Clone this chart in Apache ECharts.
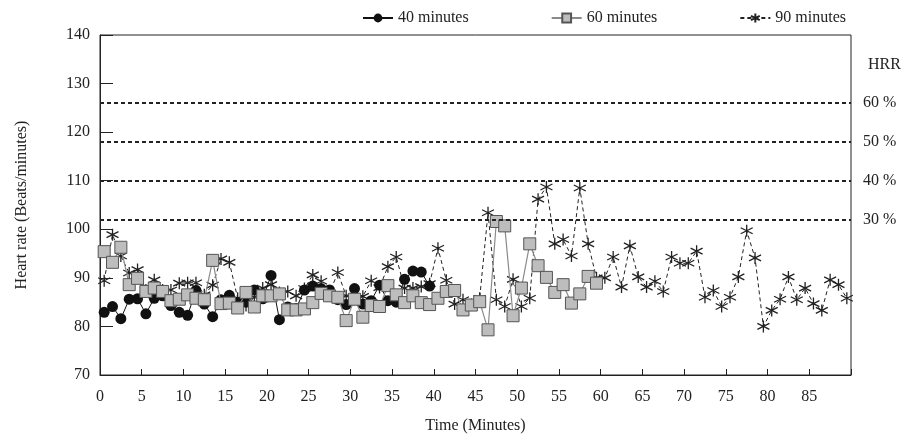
<!DOCTYPE html>
<html>
<head>
<meta charset="utf-8">
<script src="https://cdn.jsdelivr.net/npm/echarts@6/dist/echarts.min.js"></script>
<style>html,body{margin:0;padding:0;background:#fff;}#c{width:909px;height:441px;}</style>
</head>
<body>
<div id="c"></div>
<script>
// Heart rate (beats/min), one sample per minute (plotted at mid-minute)
const hr40 = [82.9, 84.1, 81.6, 85.6, 85.7, 82.6, 85.8, 86.3, 84.3, 82.9,
              82.3, 87.4, 84.6, 82.0, 85.5, 86.4, 85.0, 85.0, 87.5, 85.7,
              90.5, 81.4, 84.0, 83.7, 87.5, 88.3, 87.8, 87.5, 85.5, 84.5,
              87.8, 84.6, 85.3, 88.5, 85.3, 85.0, 89.7, 91.4, 91.2, 88.3];
const hr60 = [95.4, 93.2, 96.3, 88.6, 89.9, 87.2, 87.9, 87.2, 85.3, 85.6,
              86.5, 85.8, 85.5, 93.6, 84.7, 84.8, 83.8, 87.0, 84.0, 86.3,
              86.3, 86.7, 83.4, 83.4, 83.6, 84.9, 86.8, 86.3, 86.0, 81.2,
              85.6, 81.9, 84.3, 84.1, 88.4, 86.5, 84.9, 86.3, 84.9, 84.5,
              85.8, 87.2, 87.4, 83.4, 84.4, 85.1, 79.3, 101.6, 100.7, 82.2,
              87.9, 97.0, 92.5, 90.1, 87.0, 88.6, 84.8, 86.7, 90.3, 88.9];
const hr90 = [89.4, 98.9, 94.5, 91.0, 91.7, 87.5, 89.6, 87.5, 87.5, 88.9,
              89.0, 89.0, 86.5, 88.5, 93.9, 93.2, 85.8, 84.3, 86.0, 87.9,
              88.6, 87.0, 87.2, 86.3, 87.8, 90.6, 89.3, 86.8, 91.1, 86.3,
              85.6, 86.2, 89.4, 88.0, 92.3, 94.3, 87.9, 87.9, 88.2, 88.8,
              96.1, 89.5, 84.6, 85.5, 84.5, 85.8, 103.4, 85.5, 84.1, 89.7,
              84.1, 85.8, 106.2, 108.7, 97.0, 97.9, 94.5, 108.5, 97.0, 90.0,
              90.0, 94.3, 88.1, 96.6, 90.2, 88.1, 89.3, 87.2, 94.3, 93.0,
              93.0, 95.5, 86.0, 87.4, 84.1, 86.0, 90.2, 99.7, 94.1, 80.0,
              83.3, 85.6, 90.2, 85.5, 87.9, 84.7, 83.3, 89.6, 88.6, 85.8];
const seriesNames = ['40 minutes', '60 minutes', '90 minutes'];
const hrrLevels = [102, 110, 118, 126];
const hrrLabels = ['30 %', '40 %', '50 %', '60 %'];

const toPts = arr => arr.map((v, i) => [i + 0.5, v]);
const FONT = 'Liberation Serif';
const TXT = '#222';
const asterisk = 'path://M5,0L5,10M0.7,2.5L9.3,7.5M0.7,7.5L9.3,2.5';

const chart = echarts.init(document.getElementById('c'), null, {renderer: 'canvas'});
chart.setOption({
  animation: false,
  textStyle: {fontFamily: FONT, color: TXT},
  title: {text: 'HRR', left: 863, top: 52, textStyle: {fontFamily: FONT, fontSize: 16, fontWeight: 'normal', color: TXT}},
  legend: {
    data: seriesNames,
    right: 58, top: 5,
    itemWidth: 30, itemHeight: 11, itemGap: 82,
    textStyle: {fontFamily: FONT, fontSize: 16, color: TXT}
  },
  grid: {left: 100, right: 58, top: 35, bottom: 66, show: true, borderColor: '#222', borderWidth: 1, containLabel: false},
  xAxis: {
    type: 'value', min: 0, max: 90, interval: 5,
    name: 'Time (Minutes)', nameLocation: 'middle', nameGap: 43,
    nameTextStyle: {fontFamily: FONT, fontSize: 16, color: TXT},
    axisLine: {lineStyle: {color: '#222', width: 1}},
    axisTick: {inside: true, length: 6, lineStyle: {color: '#222'}},
    axisLabel: {fontFamily: FONT, fontSize: 16, color: TXT, margin: 14,
                formatter: v => (v >= 90 ? '' : v)},
    splitLine: {show: false}
  },
  yAxis: {
    type: 'value', min: 70, max: 140, interval: 10,
    name: 'Heart rate (Beats/minutes)', nameLocation: 'middle', nameGap: 70,
    nameTextStyle: {fontFamily: FONT, fontSize: 16, color: TXT},
    axisLine: {show: true, lineStyle: {color: '#222', width: 1}},
    axisTick: {inside: true, length: 13, lineStyle: {color: '#222'}},
    axisLabel: {fontFamily: FONT, fontSize: 16, color: TXT, margin: 10},
    splitLine: {show: false}
  },
  series: [
    {
      name: seriesNames[2], type: 'line', data: toPts(hr90), z: 2,
      symbol: asterisk, symbolSize: 12,
      lineStyle: {color: '#222', width: 1, type: [4, 3]},
      itemStyle: {color: 'rgba(0,0,0,0)', borderColor: '#222', borderWidth: 1.3},
      markLine: {
        silent: true, symbol: 'none',
        lineStyle: {color: '#222', width: 2, type: [4, 3]},
        label: {show: true, position: 'end', distance: 12, fontFamily: FONT, fontSize: 16, color: TXT,
                formatter: p => hrrLabels[hrrLevels.indexOf(p.value)]},
        data: hrrLevels.map(v => ({yAxis: v}))
      }
    },
    {
      name: seriesNames[0], type: 'line', data: toPts(hr40), z: 3,
      symbol: 'circle', symbolSize: 11,
      lineStyle: {color: '#111', width: 1},
      itemStyle: {color: '#111', borderColor: '#111', borderWidth: 0}
    },
    {
      name: seriesNames[1], type: 'line', data: toPts(hr60), z: 4,
      symbol: 'rect', symbolSize: 12,
      lineStyle: {color: '#8a8a8a', width: 1.2},
      itemStyle: {color: '#bdbdbd', borderColor: '#555', borderWidth: 1}
    }
  ]
});
</script>
</body>
</html>
